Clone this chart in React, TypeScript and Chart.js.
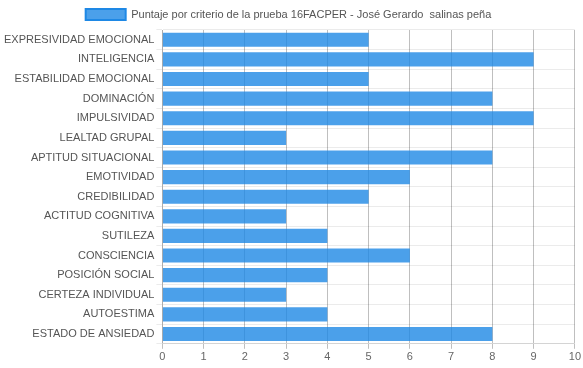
import React, { useEffect, useRef } from "react";
import { Chart, registerables } from "chart.js";

Chart.register(...registerables);

const categories = [
  "EXPRESIVIDAD EMOCIONAL",
  "INTELIGENCIA",
  "ESTABILIDAD EMOCIONAL",
  "DOMINACIÓN",
  "IMPULSIVIDAD",
  "LEALTAD GRUPAL",
  "APTITUD SITUACIONAL",
  "EMOTIVIDAD",
  "CREDIBILIDAD",
  "ACTITUD COGNITIVA",
  "SUTILEZA",
  "CONSCIENCIA",
  "POSICIÓN SOCIAL",
  "CERTEZA INDIVIDUAL",
  "AUTOESTIMA",
  "ESTADO DE ANSIEDAD",
];
const scores = [5, 9, 5, 8, 9, 3, 8, 6, 5, 3, 4, 6, 4, 3, 4, 8];
const seriesLabel = "Puntaje por criterio de la prueba 16FACPER - José Gerardo  salinas peña";

const FAMILY = "Arial, 'Liberation Sans', sans-serif";

export default function App() {
  const ref = useRef<HTMLCanvasElement>(null);
  useEffect(() => {
    document.body.style.margin = "0";
    const chart = new Chart(ref.current!, {
      type: "bar",
      data: {
        labels: categories,
        datasets: [
          {
            label: seriesLabel,
            data: scores,
            backgroundColor: "rgba(30,136,229,0.8)",
            borderColor: "rgba(30,136,229,1)",
            borderWidth: 0,
          },
        ],
      },
      options: {
        indexAxis: "y",
        animation: false,
        responsive: false,
        layout: { padding: { left: 2, right: 8, top: 0, bottom: 2 } },
        plugins: {
          legend: {
            labels: {
              color: "#555",
              font: { family: FAMILY, size: 11 },
              boxWidth: 40,
              boxHeight: 11,
              padding: 9,
              generateLabels: () => [
                {
                  text: seriesLabel,
                  fillStyle: "rgba(30,136,229,0.8)",
                  strokeStyle: "rgba(30,136,229,1)",
                  lineWidth: 2,
                  datasetIndex: 0,
                  fontColor: "#555",
                } as any,
              ],
            },
          },
          tooltip: { enabled: false },
        },
        scales: {
          x: {
            min: 0,
            max: 10,
            ticks: { stepSize: 1, color: "#666", padding: 2, font: { family: FAMILY, size: 11 } },
            grid: { color: "rgba(0,0,0,0.25)", tickLength: 5 },
          },
          y: {
            ticks: { color: "#555", padding: 2, font: { family: FAMILY, size: 11 } },
            grid: { color: "rgba(0,0,0,0.08)", tickLength: 6 },
          },
        },
      },
    });
    return () => chart.destroy();
  }, []);
  return <canvas ref={ref} width={583} height={368} style={{ display: "block" }} />;
}
